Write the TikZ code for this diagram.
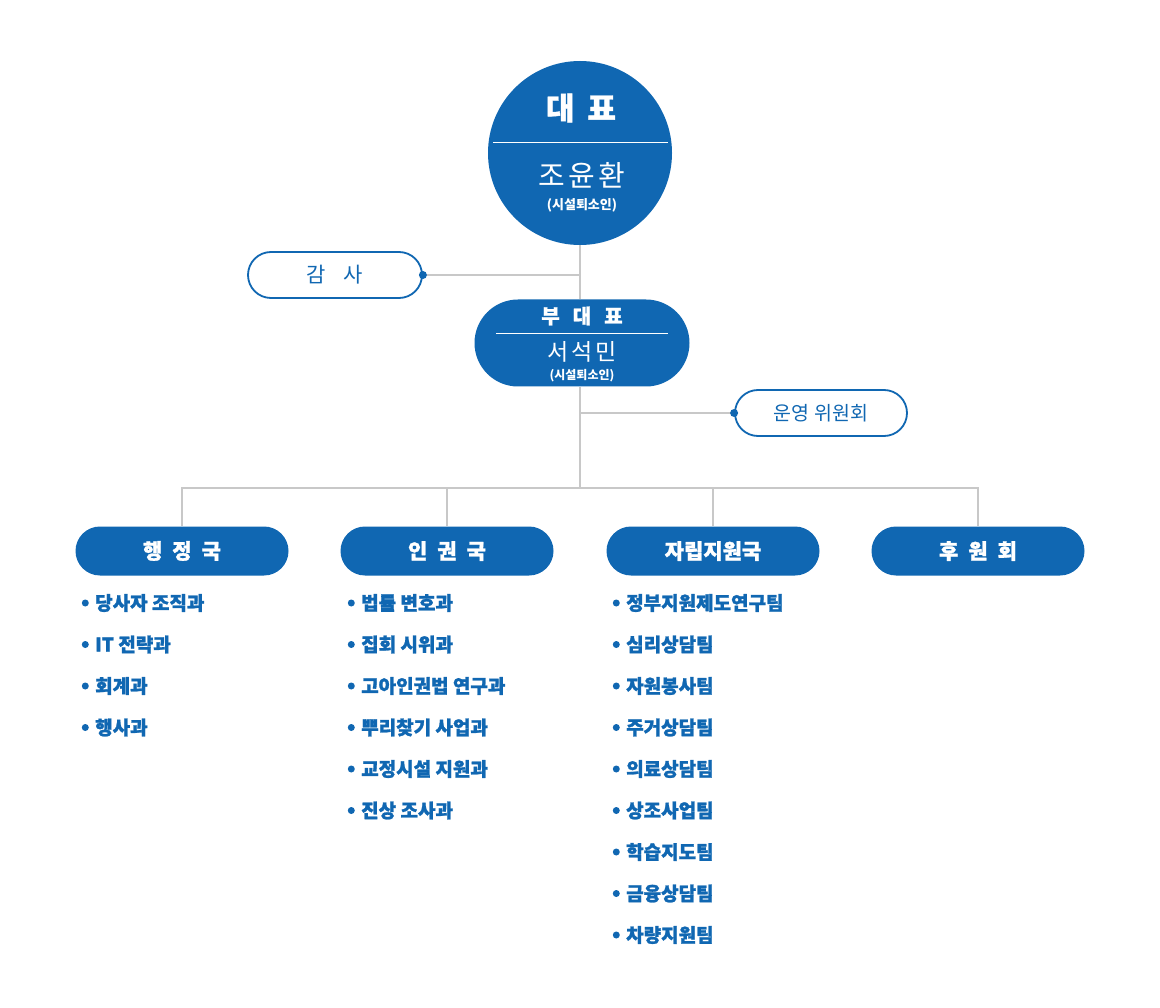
\documentclass[tikz,border=0pt]{standalone}
\usepackage{fontspec}
\usetikzlibrary{calc}
\newfontfamily\krreg{Noto Sans CJK KR}
\newfontfamily\krheavyfam{Noto Sans CJK KR}[BoldFeatures={FakeBold=1.3}]
\newcommand\krheavy{\krheavyfam\bfseries}
\newcommand\krbold{\krreg\bfseries}
\newcommand\fs[1]{\fontsize{#1}{#1}\selectfont}
\definecolor{orgblue}{RGB}{16,103,178}
\definecolor{conngray}{RGB}{200,200,200}
\tikzset{
  conn/.style={draw=conngray, line width=1.3pt},
  bluecircle/.style={circle, fill=orgblue, minimum size=184pt, inner sep=0pt},
  bluepill/.style={rectangle, fill=orgblue, rounded corners=#1, inner sep=0pt},
  outlinepill/.style={rectangle, draw=orgblue, line width=1.8pt, fill=white, rounded corners=23pt,
     minimum width=174pt, minimum height=46pt, inner sep=0pt, text=orgblue},
  dept/.style={bluepill=24.5pt, minimum width=213pt, minimum height=49pt, text=white,
     font=\krheavy\fs{21}},
  wtext/.style={text=white, inner sep=0pt},
  listitem/.style={anchor=west, inner sep=0pt, text=orgblue, font=\krheavy\fs{19},
     label={[circle, fill=orgblue, inner sep=0pt, minimum size=7pt, label distance=6pt]left:{}}},
  dotend/.style={fill=orgblue},
}
\begin{document}
\begin{tikzpicture}[x=1pt,y=-1pt]
\useasboundingbox[fill=white] (0,0) rectangle (1160,1008);

% CEO circle
\node[bluecircle] (ceo) at (580,153) {};
\draw[white, line width=1pt] (493,143) -- (668,143);
\node[wtext, font=\krheavy\fs{31}] (ceotitle) at (581,108) {대\hspace{13pt}표};
\node[wtext, font=\krreg\fs{29}] (ceoname) at (582,175) {조\hspace{3.5pt}윤\hspace{3.5pt}환};
\node[wtext, font=\krbold\fs{13}] (ceonote) at (582,205) {(시설퇴소인)};

% audit
\node[outlinepill, font=\krreg\fs{21}] (audit) at (335,275) {감\hspace{18pt}사};

% vice
\node[bluepill=43.5pt, minimum width=215pt, minimum height=87pt] (vice) at (582,343) {};
\draw[white, line width=1pt] (496,334) -- (668,334);
\node[wtext, font=\krheavy\fs{20}] (vicetitle) at (582,316) {부\hspace{13pt}대\hspace{13pt}표};
\node[wtext, font=\krreg\fs{23}] (vicename) at (582,352) {서\hspace{3pt}석\hspace{3pt}민};
\node[wtext, font=\krbold\fs{12}] (vicenote) at (582,376) {(시설퇴소인)};

% committee
\node[outlinepill, minimum width=172pt, font=\krreg\fs{19.5}] (comm) at (821,413) {운영 위원회};

% connectors
\draw[conn] (ceo.south) -- (ceo.south |- vice.north);
\draw[conn] (audit.east) -- (audit.east -| ceo.south);
\fill[dotend] (audit.east) circle (4pt);
\coordinate (busc) at (580,488);
\draw[conn] (580,387) -- (busc);
\draw[conn] (comm.west) -- (comm.west -| busc);
\fill[dotend] (comm.west) circle (4pt);

% departments
\node[dept] (d1) at (182,551) {행\hspace{10pt}정\hspace{10pt}국};
\node[dept] (d2) at (447,551) {인\hspace{10pt}권\hspace{10pt}국};
\node[dept] (d3) at (713,551) {자립지원국};
\node[dept] (d4) at (978,551) {후\hspace{10pt}원\hspace{10pt}회};

\draw[conn] (d1.north) |- (busc) -| (d4.north);
\draw[conn] (d2.north) -- (d2.north |- busc);
\draw[conn] (d3.north) -- (d3.north |- busc);

% lists
\foreach \t [count=\i] in {당사자 조직과, IT 전략과, 회계과, 행사과}
  \node[listitem] (a\i) at (95,{603+41.5*(\i-1)}) {\t};
\foreach \t [count=\i] in {법률 변호과, 집회 시위과, 고아인권법 연구과, 뿌리찾기 사업과, 교정시설 지원과, 진상 조사과}
  \node[listitem] (b\i) at (361,{603+41.5*(\i-1)}) {\t};
\foreach \t [count=\i] in {정부지원제도연구팀, 심리상담팀, 자원봉사팀, 주거상담팀, 의료상담팀, 상조사업팀, 학습지도팀, 금융상담팀, 차량지원팀}
  \node[listitem] (c\i) at (626,{603+41.5*(\i-1)}) {\t};
\end{tikzpicture}
\end{document}
